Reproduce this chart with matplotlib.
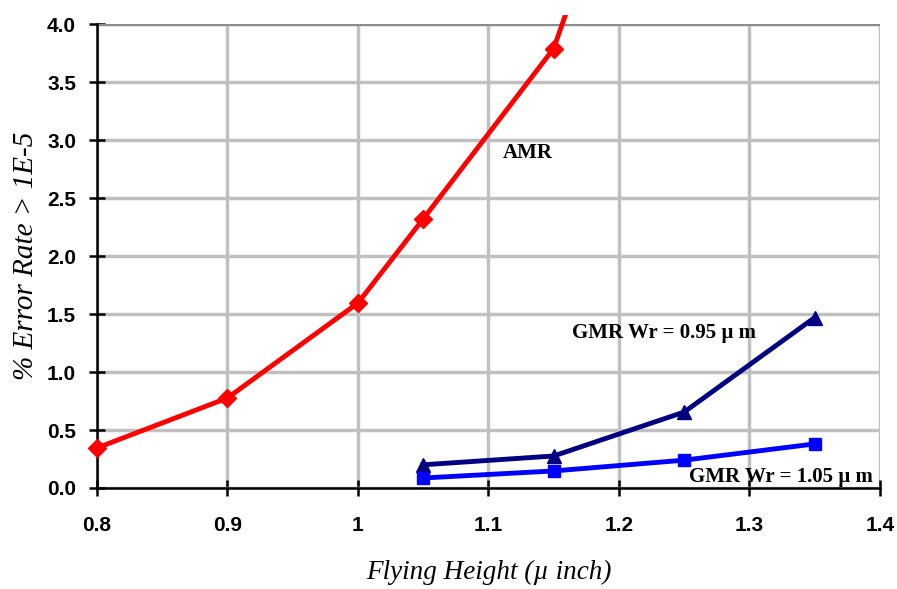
import numpy as np
import matplotlib
matplotlib.use("Agg")
import matplotlib.pyplot as plt
from matplotlib.patches import Rectangle

# values
amr_x = [0.8, 0.9, 1.0, 1.05, 1.15, 1.25]
amr_y = [0.345, 0.776, 1.595, 2.32, 3.79, 7.0]   # last point lies off the chart
gmr095_x = [1.05, 1.15, 1.25, 1.35]
gmr095_y = [0.20, 0.276, 0.655, 1.47]
gmr105_x = [1.05, 1.15, 1.25, 1.35]
gmr105_y = [0.086, 0.147, 0.24, 0.38]

x_ticks = [0.8, 0.9, 1.0, 1.1, 1.2, 1.3, 1.4]
x_ticklabels = ["0.8", "0.9", "1", "1.1", "1.2", "1.3", "1.4"]
y_ticks = [0.0, 0.5, 1.0, 1.5, 2.0, 2.5, 3.0, 3.5, 4.0]

tick_font = dict(family=["Liberation Sans Narrow", "Liberation Sans", "DejaVu Sans"],
                 weight="bold", size=15)
serif = ["Liberation Serif", "DejaVu Serif"]
note_font = dict(family=serif, weight="bold", size=15)

fig = plt.figure(figsize=(8.97, 5.89), dpi=100)
ax = fig.add_axes([0.108, 0.1715, 0.873, 0.7875])

ax.set_xlim(0.8, 1.4)
ax.set_ylim(0, 4.0)

# AMR line, clipped a little above the plot area like the original
line, = ax.plot(amr_x, amr_y, color="#ff0000", lw=3.5, zorder=3)
clip = Rectangle((0, 0), 1, 1.02, transform=ax.transAxes, facecolor="none")
line.set_clip_path(clip)
ax.plot(amr_x[:-1], amr_y[:-1], ls="none", marker="D", ms=9, color="#ff0000",
        zorder=4, clip_on=False)

ax.plot(gmr095_x, gmr095_y, color="#000080", lw=3.5, marker="^", ms=10, zorder=3)
ax.plot(gmr105_x, gmr105_y, color="#0000ff", lw=3.5, marker="s", ms=9, zorder=3)

ax.text(1.111, 2.89, "AMR", ha="left", va="center", **note_font)
ax.text(1.164, 1.336, "GMR Wr = 0.95 \u00b5 m", ha="left", va="center", **note_font)
ax.text(1.254, 0.095, "GMR Wr = 1.05 \u00b5 m", ha="left", va="center", **note_font)

ax.grid(True, color="#c0c0c0", lw=2.5)
ax.set_axisbelow(True)
for s in ["top", "right"]:
    ax.spines[s].set_visible(False)
ax.spines["left"].set_linewidth(1.8)
ax.spines["bottom"].set_linewidth(1.8)
ax.axhline(4.0, color="#8c8c8c", lw=3, zorder=1)

ax.set_xticks(x_ticks)
ax.set_xticklabels(x_ticklabels, **tick_font)
ax.set_yticks(y_ticks)
ax.set_yticklabels([f"{v:.1f}" for v in y_ticks], **tick_font)
ax.tick_params(direction="inout", length=12, width=1.8)
ax.tick_params(axis="x", pad=14)
ax.tick_params(axis="y", pad=9)

ax.set_xlabel("Flying Height (\u00b5 inch)", labelpad=18, family=serif,
              style="italic", size=19.5)
ax.set_ylabel("% Error Rate > 1E-5", labelpad=6, family=serif,
              style="italic", size=21)

fig.savefig("out.png", dpi=100)
